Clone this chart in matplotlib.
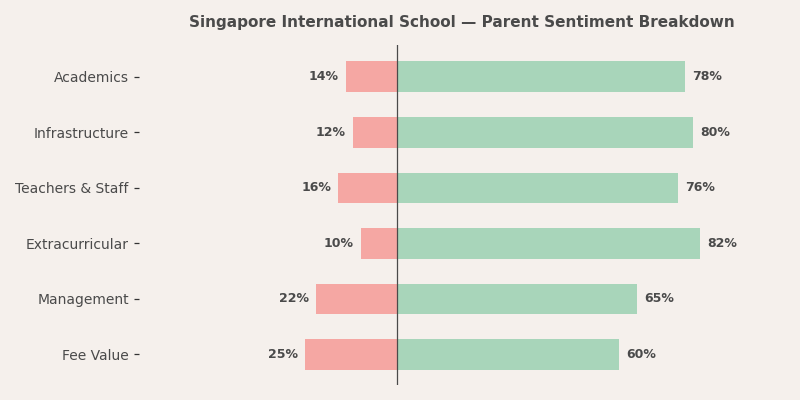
import matplotlib
matplotlib.use("Agg")
import matplotlib.pyplot as plt

categories = ["Academics", "Infrastructure", "Teachers & Staff",
              "Extracurricular", "Management", "Fee Value"]
negative = [14, 12, 16, 10, 22, 25]
positive = [78, 80, 76, 82, 65, 60]

bg = "#F5F0EC"
txt = "#4A4A4A"

fig = plt.figure(figsize=(8, 4), dpi=100, facecolor=bg)
ax = fig.add_axes([0.174, 0.0375, 0.807, 0.85])
ax.set_facecolor(bg)

y = list(range(len(categories)))
ax.barh(y, [-v for v in negative], height=0.55, color="#F5A7A3")
ax.barh(y, positive, height=0.55, color="#A8D5BA")

for i in y:
    ax.text(positive[i] + 2, i, f"{positive[i]}%", va="center", ha="left",
            fontsize=9, fontweight="bold", color=txt)
    ax.text(-negative[i] - 2, i, f"{negative[i]}%", va="center", ha="right",
            fontsize=9, fontweight="bold", color=txt)

ax.axvline(0, color="#4A4A4A", lw=0.9)
ax.set_xlim(-70, 105)
ax.set_ylim(5.55, -0.57)
ax.set_yticks(y)
ax.set_yticklabels(categories, fontsize=10, color=txt)
ax.tick_params(axis="y", length=3.5, width=0.9, pad=4, color="#333333")
ax.set_xticks([])
for s in ax.spines.values():
    s.set_visible(False)

ax.set_title("Singapore International School — Parent Sentiment Breakdown",
             fontsize=11, fontweight="bold", color=txt, pad=13)

fig.savefig("out.png", dpi=100, facecolor=bg)
